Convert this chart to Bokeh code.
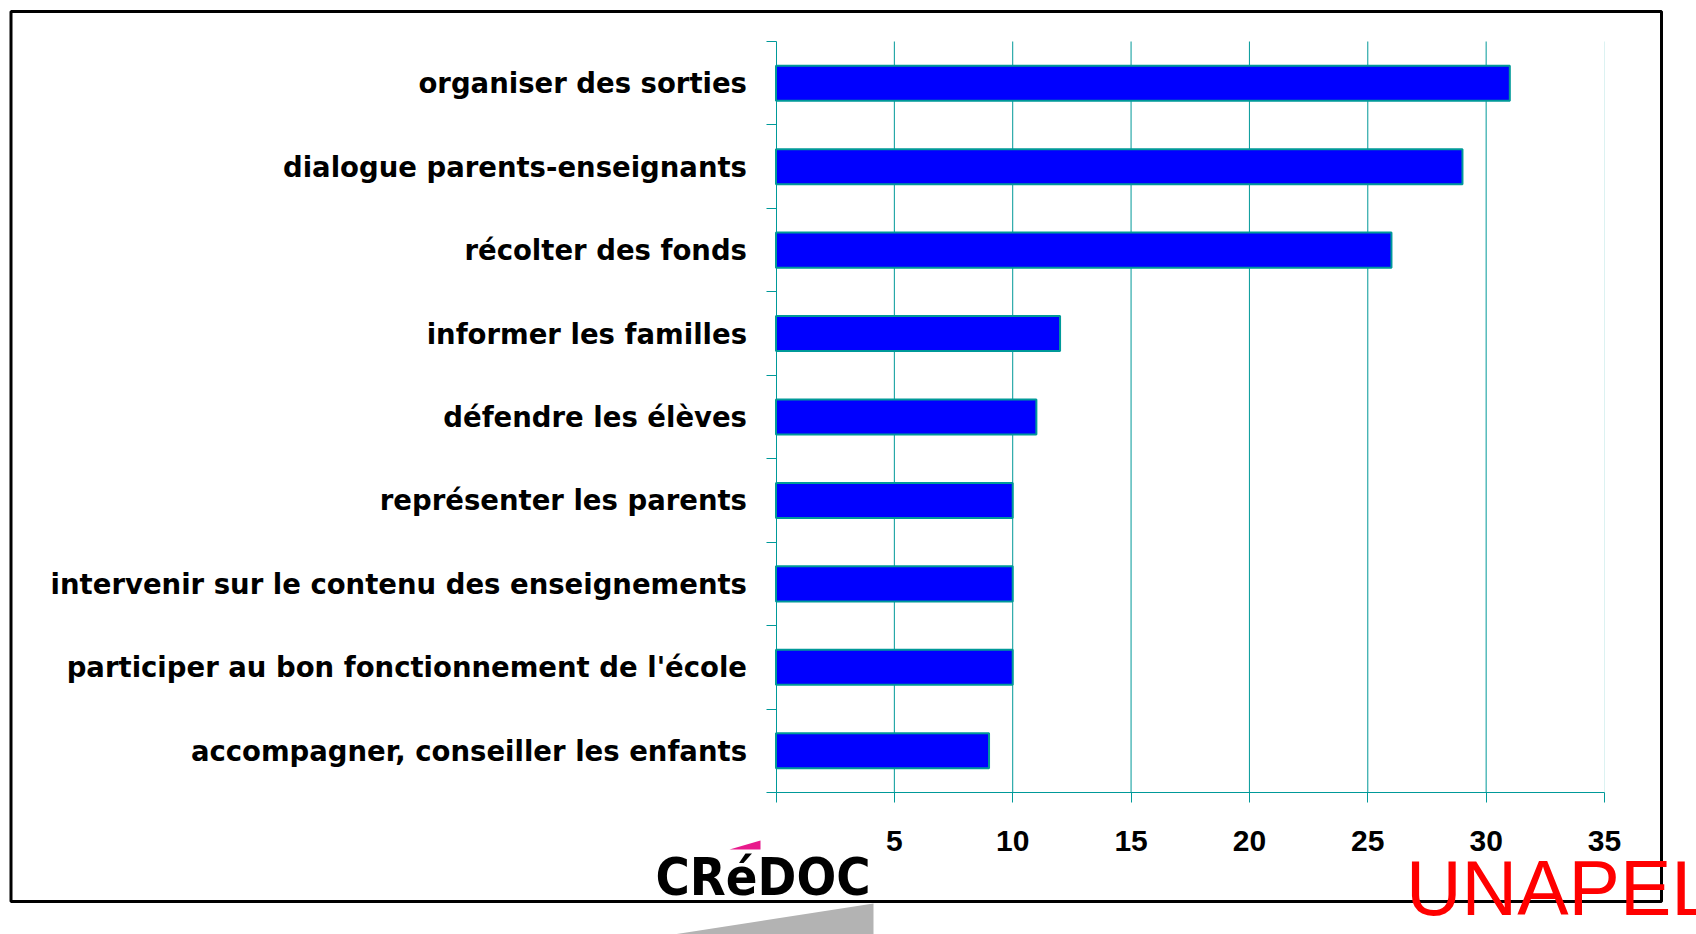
from bokeh.plotting import figure
from bokeh.models import FixedTicker, Label, BoxAnnotation, PolyAnnotation, Range1d
from bokeh.embed import file_html
from bokeh.resources import INLINE

# ---- data ----
categories = [
    "organiser des sorties",
    "dialogue parents-enseignants",
    "récolter des fonds",
    "informer les familles",
    "défendre les élèves",
    "représenter les parents",
    "intervenir sur le contenu des enseignements",
    "participer au bon fonctionnement de l'école",
    "accompagner, conseiller les enfants",
]
values = [31, 29, 26, 12, 11, 10, 10, 10, 9]
x_ticks = [0, 5, 10, 15, 20, 25, 30, 35]
x_max = 35

n = len(categories)
ypos = [n - i - 0.5 for i in range(n)]
grid_ticks = [t for t in x_ticks if 0 < t < x_max]

TEAL = "#009999"
W, H = 1696, 934
# chart area in canvas pixels
CL, CT, CR, CB = 775.5, 41.0, 1604.0, 792.0
ux = (CR - CL) / x_max
uy = (CB - CT) / n

x_range = Range1d(-CL / ux, (W - CL) / ux)
y_range = Range1d((CB - H) / uy, CB / uy)

def dx(px):
    return (px - CL) / ux

def dy(py):
    return (CB - py) / uy

p = figure(width=W, height=H, x_range=x_range, y_range=y_range,
           output_backend="svg", toolbar_location=None, title=None,
           min_border=0)
p.outline_line_color = None
p.background_fill_color = "white"
p.border_fill_color = "white"
p.xgrid.visible = False
p.ygrid.visible = False

# vertical grid lines
p.segment(x0=grid_ticks, y0=0, x1=grid_ticks, y1=n, line_color=TEAL, line_width=1)
p.segment(x0=[x_max], y0=0, x1=[x_max], y1=n, line_color="#dcf2f2", line_width=1)

# bars
p.hbar(y=ypos, left=0, right=values, height=0.42,
       fill_color="#0000FF", line_color=TEAL, line_width=2)

# x axis
xa = p.xaxis[0]
xa.fixed_location = 0
xa.bounds = (0, x_max)
xa.ticker = FixedTicker(ticks=x_ticks, minor_ticks=[])
xa.major_label_overrides = {0: ""}
xa.axis_line_color = TEAL
xa.major_tick_line_color = TEAL
xa.major_tick_out = 10
xa.major_tick_in = 0
xa.minor_tick_line_color = None
xa.major_label_text_font = "Liberation Sans"
xa.major_label_text_font_style = "bold"
xa.major_label_text_font_size = "30px"
xa.major_label_text_color = "black"
xa.major_label_standoff = 28

# y axis: labels at centres, ticks at category boundaries
ya = p.yaxis[0]
ya.fixed_location = 0
ya.bounds = (0, n)
ya.ticker = FixedTicker(ticks=ypos, minor_ticks=list(range(n + 1)))
ya.major_label_overrides = {y: c for y, c in zip(ypos, categories)}
ya.axis_line_color = TEAL
ya.major_tick_line_color = None
ya.major_tick_out = 0
ya.major_tick_in = 0
ya.minor_tick_line_color = TEAL
ya.minor_tick_out = 10
ya.minor_tick_in = 0
ya.major_label_text_font = "DejaVu Sans"
ya.major_label_text_font_style = "bold"
ya.major_label_text_font_size = "27.5px"
ya.major_label_text_color = "black"
ya.major_label_standoff = 19

# outer frame
p.add_layout(BoxAnnotation(left=dx(10.5), right=dx(1661), top=dy(11), bottom=dy(901),
                           fill_color=None, line_color="black", line_alpha=1, line_width=3))

# CREDOC logo
p.add_layout(PolyAnnotation(xs=[dx(673), dx(873), dx(873)], ys=[dy(934), dy(903), dy(934)],
                            fill_color="#b3b3b3", fill_alpha=1, line_color=None))
p.add_layout(Label(x=dx(655), y=dy(876), text="CRéDOC",
                   text_font="DejaVu Sans Condensed, Liberation Sans Narrow, DejaVu Sans",
                   text_font_style="bold", text_font_size="52px", text_color="black",
                   text_baseline="alphabetic"))
p.add_layout(PolyAnnotation(xs=[dx(729), dx(760), dx(760)], ys=[dy(849), dy(840), dy(849)],
                            fill_color="#E8198B", fill_alpha=1, line_color=None))

# UNAPEL
p.add_layout(Label(x=dx(1405.5), y=dy(887), text="UNAPEL", text_font="Liberation Sans",
                   text_font_size="77px", text_color="#FF0000", text_baseline="alphabetic"))

open("out.html", "w").write(file_html(p, INLINE))
